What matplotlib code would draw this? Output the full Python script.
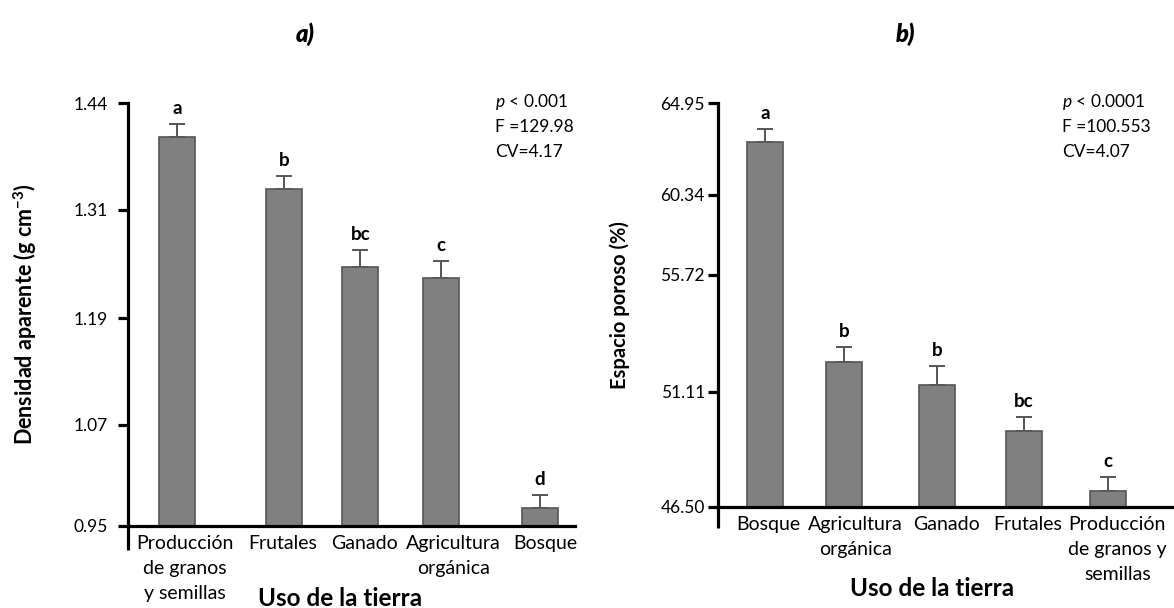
import numpy as np
import matplotlib
matplotlib.use("Agg")
import matplotlib.pyplot as plt

plt.rcParams['font.family'] = ['Lato', 'DejaVu Sans']
plt.rcParams['mathtext.fontset'] = 'custom'
plt.rcParams['mathtext.rm'] = 'Lato'
plt.rcParams['mathtext.it'] = 'Lato:italic'
plt.rcParams['mathtext.bf'] = 'Lato:bold'

# --- data, panel a ---
cats_a = ['Producción\nde granos\ny semillas', 'Frutales', 'Ganado', 'Agricultura\norgánica', 'Bosque']
dens = [1.399, 1.336, 1.247, 1.234, 0.971]
dens_err = [0.016, 0.015, 0.019, 0.019, 0.016]
letters_a = ['a', 'b', 'bc', 'c', 'd']
ticks_a = [0.95, 1.07, 1.19, 1.31, 1.44]
ticklabels_a = ['0.95', '1.07', '1.19', '1.31', '1.44']
stats_a = ['$\\mathit{p}$ < 0.001', 'F =129.98', 'CV=4.17']

# --- data, panel b ---
cats_b = ['Bosque', 'Agricultura\norgánica', 'Ganado', 'Frutales', 'Producción\nde granos y\nsemillas']
poros = [63.02, 52.27, 51.37, 49.55, 47.14]
poros_err = [0.62, 0.59, 0.77, 0.56, 0.56]
letters_b = ['a', 'b', 'b', 'bc', 'c']
ticks_b = [46.50, 51.11, 55.72, 60.34, 64.95]
ticklabels_b = ['46.50', '51.11', '55.72', '60.34', '64.95']
stats_b = ['$\\mathit{p}$ < 0.0001', 'F =100.553', 'CV=4.07']

# layout (where the ticks sit along the axis in the original, 0..1)
frac_a = [0.0, 0.2384, 0.4917, 0.7474, 1.0]
frac_b = [0.0, 0.2851, 0.5744, 0.7727, 1.0]
xpos_a = [0.0, 1.40, 2.40, 3.46, 4.75]
xpos_b = [0.0, 1.03, 2.25, 3.39, 4.49]
# category labels are not exactly under the bars in the original
lblpos_a = [0.10, 1.39, 2.46, 3.62, 4.82]
lblpos_b = [0.04, 1.18, 2.38, 3.43, 4.61]

W, H = 1174, 608
fig = plt.figure(figsize=(W / 100, H / 100), dpi=100)


def piecewise(vals, fracs):
    v = np.asarray(vals, float)
    f = np.asarray(fracs, float)
    s0 = (f[1] - f[0]) / (v[1] - v[0])
    s1 = (f[-1] - f[-2]) / (v[-1] - v[-2])
    big = 1e4
    v = np.concatenate([[v[0] - big], v, [v[-1] + big]])
    f = np.concatenate([[f[0] - big * s0], f, [f[-1] + big * s1]])
    return (lambda x: np.interp(x, v, f)), (lambda y: np.interp(y, f, v))


def panel(rect, xpos, lblpos, xlim, vals, errs, letters, cats, ticks, ticklabels, fracs,
          ylabel, ylabel_size, stats, stats_xy, title, title_xy, xlabel_xy, ylabel_x,
          drop, ypad):
    l, b, r, t = rect
    ax = fig.add_axes([l / W, 1 - b / H, (r - l) / W, (b - t) / H])
    fwd, inv = piecewise(ticks, fracs)
    ax.set_yscale('function', functions=(fwd, inv))
    ax.set_ylim(ticks[0], ticks[-1])
    ax.set_xlim(*xlim)
    base = ticks[0]
    heights = [v - base for v in vals]
    ax.bar(xpos, heights, bottom=base, width=0.47, color='#808080',
           edgecolor='#555555', linewidth=1.2, zorder=2)
    ax.errorbar(xpos, vals, yerr=[np.zeros(len(errs)), errs], fmt='none',
                ecolor='#555555', elinewidth=1.4, capsize=6, capthick=1.4, zorder=1)
    for x, v, e, s in zip(xpos, vals, errs, letters):
        ax.annotate(s, (x, v + e), xytext=(0, 5), textcoords='offset points',
                    ha='center', va='bottom', fontsize=13.5, fontweight='bold')
    for side in ['top', 'right']:
        ax.spines[side].set_visible(False)
    for side in ['left', 'bottom']:
        ax.spines[side].set_linewidth(2.3)
    ax.plot([0, 0], [0, -drop / (b - t)], color='black', lw=2.3,
            transform=ax.transAxes, clip_on=False, solid_capstyle='butt')
    ax.set_yticks(ticks)
    ax.set_yticklabels(ticklabels)
    ax.yaxis.set_minor_locator(matplotlib.ticker.NullLocator())
    ax.tick_params(axis='y', length=7.5, width=2.3, labelsize=12.5, pad=ypad)
    ax.set_xticks(lblpos)
    ax.set_xticklabels(cats, linespacing=1.55)
    ax.tick_params(axis='x', length=0, labelsize=14, pad=7)
    fig.text(ylabel_x / W, 1 - (t + b) / 2 / H, ylabel, rotation=90, ha='center',
             va='center', fontsize=ylabel_size, fontweight='bold')
    fig.text(xlabel_xy[0] / W, 1 - xlabel_xy[1] / H, 'Uso de la tierra', ha='center',
             va='center', fontsize=17.5, fontweight='bold')
    fig.text(title_xy[0] / W, 1 - title_xy[1] / H, title, ha='center', va='center',
             fontsize=17, fontweight='heavy', fontstyle='italic')
    for i, s in enumerate(stats):
        fig.text(stats_xy[0] / W, 1 - (stats_xy[1] + i * 25) / H, s, ha='left',
                 va='center', fontsize=12.5)
    return ax


panel((128, 525.7, 575, 103.3), xpos_a, lblpos_a, (-0.64, 5.21), dens, dens_err,
      letters_a, cats_a, ticks_a, ticklabels_a, frac_a,
      'Densidad aparente (g cm$^{\\mathbf{-3}}$)', 15.5, stats_a, (495, 102),
      'a)', (305, 34), (340, 598), 25, 24, 7)

panel((718, 506.7, 1174, 103.3), xpos_b, lblpos_b, (-0.615, 5.35), poros, poros_err,
      letters_b, cats_b, ticks_b, ticklabels_b, frac_b,
      'Espacio poroso (%)', 14.5, stats_b, (1062, 102),
      'b)', (905, 34), (932, 588), 620, 21, 2)

fig.savefig('out.png', dpi=100)
